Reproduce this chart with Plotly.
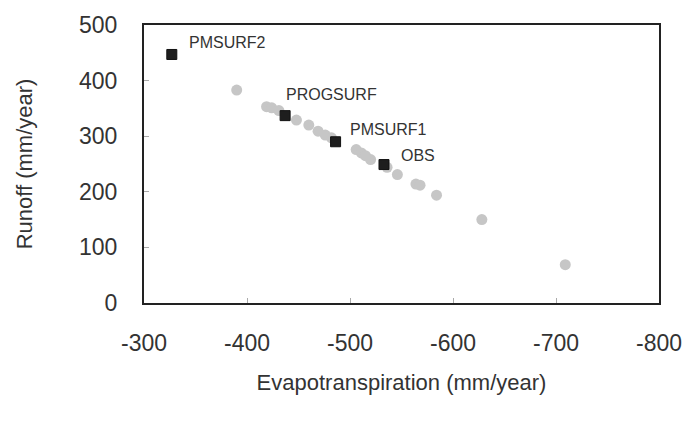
import plotly.graph_objects as go

# Gray ensemble points
gray_et = [-390, -419, -424, -431, -448, -460, -469, -476, -482, -506, -511, -515, -520, -536, -546, -564, -568, -584, -628, -709]
gray_ro = [383, 353, 351, 346, 329, 320, 309, 302, 297, 276, 270, 265, 258, 244, 231, 214, 212, 194, 150, 69]

# Labelled experiments
exp_names = ["PMSURF2", "PROGSURF", "PMSURF1", "OBS"]
exp_et = [-327, -437, -486, -533]
exp_ro = [447, 337, 290, 249]
label_shift_x = [15, -1, 12, 15]
label_shift_y = [12, 21, 12, 9]

x_ticks = [-300, -400, -500, -600, -700, -800]
x_ticklabels = ["-300", "-400", "-500", "-600", "-700", "-800"]
y_ticks = [0, 100, 200, 300, 400, 500]

fig = go.Figure()
fig.add_trace(go.Scatter(
    x=gray_et, y=gray_ro, mode="markers",
    marker=dict(size=11, color="#c6c6c6", line=dict(width=0)),
    showlegend=False, hoverinfo="skip"))
fig.add_trace(go.Scatter(
    x=exp_et, y=exp_ro, mode="markers",
    marker=dict(size=10, symbol="square", color="#1e1e1e", line=dict(width=1, color="#111")),
    showlegend=False, hoverinfo="skip"))

for n, x, y, dx, dy in zip(exp_names, exp_et, exp_ro, label_shift_x, label_shift_y):
    fig.add_annotation(x=x, y=y, text=n, showarrow=False, xanchor="left", yanchor="middle",
                       xshift=dx, yshift=dy, font=dict(family="Liberation Sans, Arial", size=16, color="#333"))

axis_common = dict(showline=True, linewidth=2, linecolor="#222", mirror=True,
                   ticks="inside", ticklen=5, tickcolor="#aaa", tickwidth=1,
                   showgrid=False, zeroline=False,
                   tickfont=dict(family="Liberation Sans, Arial", size=23, color="#333"))

fig.update_xaxes(range=[-300, -800], tickvals=x_ticks, ticktext=x_ticklabels, ticklabelstandoff=18,
                 title=dict(text="Evapotranspiration (mm/year)", standoff=20,
                            font=dict(family="Liberation Sans, Arial", size=22, color="#333")),
                 **axis_common)
fig.update_yaxes(range=[0, 500], tickvals=y_ticks, ticklabelstandoff=20,
                 title=dict(text="Runoff (mm/year)", standoff=40,
                            font=dict(family="Liberation Sans, Arial", size=22, color="#333")),
                 **axis_common)

fig.update_layout(width=694, height=422, margin=dict(l=144, r=29, t=19, b=119),
                  plot_bgcolor="white", paper_bgcolor="white")
fig.write_html("out.html")
